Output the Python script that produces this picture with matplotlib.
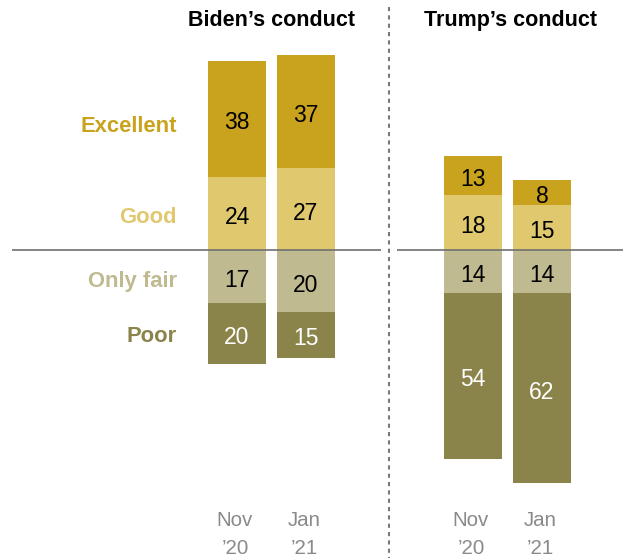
import matplotlib
matplotlib.use("Agg")
import matplotlib.pyplot as plt

# Survey results (percent)
wave_months = ["Nov", "Jan"]
wave_years = ["\u201920", "\u201921"]
panel_titles = ["Biden\u2019s conduct", "Trump\u2019s conduct"]
categories = ["Excellent", "Good", "Only fair", "Poor"]

biden_excellent = [38, 37]
biden_good = [24, 27]
biden_fair = [17, 20]
biden_poor = [20, 15]

trump_excellent = [13, 8]
trump_good = [18, 15]
trump_fair = [14, 14]
trump_poor = [54, 62]

colors = {
    "Excellent": "#C9A31D",
    "Good": "#E0C86E",
    "Only fair": "#BFBA90",
    "Poor": "#8A834A",
}
value_colors = {"Excellent": "black", "Good": "black", "Only fair": "black", "Poor": "white"}

FONT = ["Liberation Sans", "DejaVu Sans"]

fig = plt.figure(figsize=(6.23, 5.58), dpi=100)
ax = fig.add_axes([0, 0, 1, 1])
scale = 3.06           # pixels per percentage point
zero_px = 250.5        # pixel row of the baseline
ax.set_xlim(0, 623)
ax.set_ylim(-(558 - zero_px) / scale, zero_px / scale)
ax.axis("off")


def row(px):
    """Convert a pixel row into the value units of the axes."""
    return (zero_px - px) / scale


bar_width = 58
panels = [
    ([237, 306], biden_excellent, biden_good, biden_fair, biden_poor),
    ([473, 542], trump_excellent, trump_good, trump_fair, trump_poor),
]

for xs, exc, good, fair, poor in panels:
    for i, x in enumerate(xs):
        segs = [
            ("Good", 0, good[i]),
            ("Excellent", good[i], exc[i]),
            ("Only fair", 0, -fair[i]),
            ("Poor", -fair[i], -poor[i]),
        ]
        for cat, base, h in segs:
            ax.bar(x, h, bottom=base, width=bar_width, color=colors[cat],
                   linewidth=0, zorder=2)
            ax.text(x, base + h / 2 - 1.3, f"{abs(h)}", ha="center", va="center",
                    fontsize=16.5, family=FONT, color=value_colors[cat], zorder=4)
        ax.text(x - 2, row(521), wave_months[i], ha="center", va="center",
                fontsize=14.8, family=FONT, color="#8a8a8a")
        ax.text(x - 2, row(549), wave_years[i], ha="center", va="center",
                fontsize=14.8, family=FONT, color="#8a8a8a")

# Baselines for the two panels
ax.plot([12, 381], [0, 0], color="#707070", lw=1.2, zorder=3, solid_capstyle="butt")
ax.plot([397, 623], [0, 0], color="#707070", lw=1.2, zorder=3, solid_capstyle="butt")

# Divider between the panels
ax.plot([389, 389], [row(7), row(558)],
        color="#7a7a7a", lw=1.5, linestyle=(0, (2.0, 2.0)), zorder=1)

# Panel titles
ax.text(271, row(21), panel_titles[0], ha="center", va="center",
        fontsize=15.5, fontweight="bold", family=FONT, color="black")
ax.text(511, row(21), panel_titles[1], ha="center", va="center",
        fontsize=15.5, fontweight="bold", family=FONT, color="black")

# Category labels on the left
label_y = [127, 218, 282, 337]
for cat, y in zip(categories, label_y):
    ax.text(177, row(y), cat, ha="right", va="center",
            fontsize=15.8, fontweight="bold", family=FONT, color=colors[cat])

fig.savefig("out.png", dpi=100)
